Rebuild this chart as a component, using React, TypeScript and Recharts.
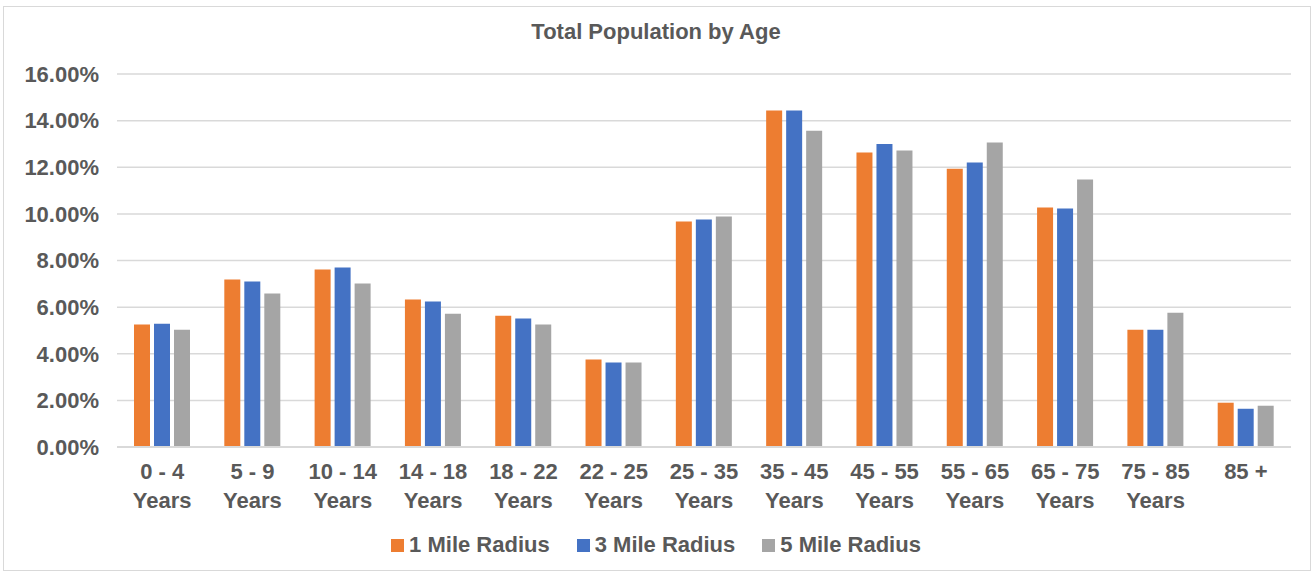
import { Bar, BarChart, CartesianGrid, XAxis, YAxis } from "recharts"

const ageGroups = [
    "0 - 4\nYears",
    "5 - 9\nYears",
    "10 - 14\nYears",
    "14 - 18\nYears",
    "18 - 22\nYears",
    "22 - 25\nYears",
    "25 - 35\nYears",
    "35 - 45\nYears",
    "45 - 55\nYears",
    "55 - 65\nYears",
    "65 - 75\nYears",
    "75 - 85\nYears",
    "85 +",
]

const oneMile = [5.25, 7.18, 7.61, 6.33, 5.63, 3.75, 9.67, 14.43, 12.63, 11.94, 10.27, 5.03, 1.9]
const threeMile = [5.29, 7.1, 7.7, 6.24, 5.51, 3.62, 9.76, 14.43, 13.0, 12.2, 10.23, 5.03, 1.64]
const fiveMile = [5.03, 6.58, 7.01, 5.72, 5.25, 3.62, 9.89, 13.57, 12.72, 13.06, 11.47, 5.76, 1.77]

const yTicks = [0, 2, 4, 6, 8, 10, 12, 14, 16]

const series = [
    { key: "oneMile", name: "1 Mile Radius", color: "#ED7D31" },
    { key: "threeMile", name: "3 Mile Radius", color: "#4472C4" },
    { key: "fiveMile", name: "5 Mile Radius", color: "#A5A5A5" },
]

const data = ageGroups.map((name, i) => ({
    name,
    oneMile: oneMile[i],
    threeMile: threeMile[i],
    fiveMile: fiveMile[i],
}))

const font = '"Liberation Sans", Arial, sans-serif'
const textColor = "#595959"

function AgeTick({ x, y, payload }: any) {
    const lines = String(payload.value).split("\n")
    return (
        <text x={x} y={y} textAnchor="middle" fill={textColor} fontSize={22} fontWeight="bold" fontFamily={font}>
            {lines.map((line, i) => (
                <tspan key={i} x={x} dy={i === 0 ? 24 : 29}>
                    {line}
                </tspan>
            ))}
        </text>
    )
}

export default function App() {
    return (
        <div style={{ position: "absolute", left: 0, top: 0, width: 1312, height: 573, background: "#fff", fontFamily: font }}>
            <div style={{ position: "absolute", left: 3, top: 6, width: 1306, height: 563, border: "1px solid #d9d9d9" }} />
            <div
                style={{
                    position: "absolute",
                    left: 0,
                    top: 17,
                    width: 1312,
                    textAlign: "center",
                    fontSize: 22,
                    fontWeight: "bold",
                    color: textColor,
                    lineHeight: "30px",
                }}
            >
                Total Population by Age
            </div>
            <div style={{ position: "absolute", left: 0, top: 0 }}>
                <BarChart
                    width={1312}
                    height={573}
                    data={data}
                    margin={{ top: 74, right: 21, left: 0, bottom: 0 }}
                    barSize={16}
                    barGap={4}
                >
                    <CartesianGrid vertical={false} stroke="#d9d9d9" strokeWidth={1.5} />
                    <XAxis
                        dataKey="name"
                        height={126}
                        interval={0}
                        tickLine={false}
                        axisLine={{ stroke: "#d9d9d9", strokeWidth: 2 }}
                        tick={<AgeTick />}
                    />
                    <YAxis
                        width={117}
                        domain={[0, 16]}
                        ticks={yTicks}
                        interval={0}
                        axisLine={false}
                        tickLine={false}
                        tickSize={0}
                        tickMargin={18}
                        tick={{ fill: textColor, fontSize: 22, fontWeight: "bold", fontFamily: font }}
                        tickFormatter={(v) => `${v.toFixed(2)}%`}
                    />
                    {series.map((s) => (
                        <Bar key={s.key} dataKey={s.key} name={s.name} fill={s.color} isAnimationActive={false} />
                    ))}
                </BarChart>
            </div>
            <div
                style={{
                    position: "absolute",
                    left: 0,
                    top: 531,
                    width: 1312,
                    display: "flex",
                    justifyContent: "center",
                    alignItems: "center",
                    gap: 27,
                    fontSize: 22,
                    fontWeight: "bold",
                    color: textColor,
                    lineHeight: "28px",
                }}
            >
                {series.map((s) => (
                    <div key={s.key} style={{ display: "flex", alignItems: "center" }}>
                        <span style={{ display: "inline-block", width: 13, height: 13, background: s.color, marginRight: 5 }} />
                        <span>{s.name}</span>
                    </div>
                ))}
            </div>
        </div>
    )
}
